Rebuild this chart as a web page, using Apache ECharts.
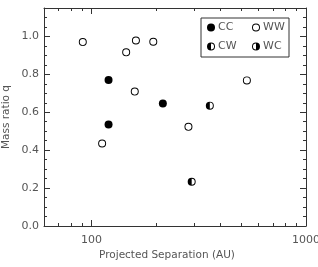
<!DOCTYPE html>
<html>
<head>
<meta charset="utf-8">
<script src="https://cdn.jsdelivr.net/npm/echarts@6/dist/echarts.min.js"></script>
<style>html,body{margin:0;padding:0;background:#fff}#c{width:318px;height:267px}</style>
</head>
<body>
<div id="c"></div>
<script>
// Data: projected separation (AU) and mass ratio q by class
const ccSep = [120, 120, 215];
const ccQ   = [0.770, 0.535, 0.646];
const wwSep = [91, 145, 161, 194, 159, 112, 530, 283];
const wwQ   = [0.970, 0.916, 0.979, 0.972, 0.709, 0.435, 0.768, 0.523];
const cwSep = [356, 293];
const cwQ   = [0.635, 0.233];
const wcSep = [];
const wcQ   = [];
const classNames = ['CC', 'WW', 'CW', 'WC'];
const xMajorTicks = [100, 1000];
const xMinorTicks = [70, 80, 90, 200, 300, 400, 500, 600, 700, 800, 900];
const yMajorTicks = [0, 0.2, 0.4, 0.6, 0.8, 1.0];
const yMinorTicks = [0.05,0.1,0.15,0.25,0.3,0.35,0.45,0.5,0.55,0.65,0.7,0.75,0.85,0.9,0.95,1.05,1.1];

const zip = (a, b) => a.map((v, i) => [v, b[i]]);
const FONT = 'DejaVu Sans';
const TXT = '#555';
const LINE = '#333';

const halfLeft = 'path://M10,0 A10,10 0 0,0 10,20 A10,10 0 0,0 10,0 Z M10,2.4 A7.6,7.6 0 0,1 10,17.6 L10,2.4 Z';
const halfRight = 'path://M10,0 A10,10 0 0,1 10,20 A10,10 0 0,1 10,0 Z M10,2.4 A7.6,7.6 0 0,0 10,17.6 L10,2.4 Z';
const ring = 'path://M10,0 A10,10 0 0,0 10,20 A10,10 0 0,0 10,0 Z M10,2.4 A7.6,7.6 0 0,1 10,17.6 A7.6,7.6 0 0,1 10,2.4 Z';

const XMIN = 60, XMAX = 1000, YMIN = 0, YMAX = 1.15;
const lg = Math.log10;

function tickAxis(pos, vals, len, labels, isX) {
  const base = {
    type: 'value', position: pos,
    min: isX ? lg(XMIN) : YMIN, max: isX ? lg(XMAX) : YMAX,
    axisLine: { show: false, onZero: false },
    splitLine: { show: false },
    axisTick: { show: true, inside: true, length: len, lineStyle: { color: LINE, width: 1 },
      customValues: isX ? vals.map(lg) : vals },
    axisLabel: { show: false },
    silent: true
  };
  if (labels) {
    base.axisLabel = {
      show: true, customValues: isX ? vals.map(lg) : vals,
      color: TXT, fontFamily: FONT, fontSize: 11,
      margin: isX ? 9 : 5,
      formatter: isX ? (v => String(Math.round(Math.pow(10, v)))) : (v => v.toFixed(1))
    };
  }
  return base;
}

const chart = echarts.init(document.getElementById('c'), null, { renderer: 'canvas' });
chart.setOption({
  animation: false,
  backgroundColor: '#fff',
  grid: { left: 44, right: 12, top: 8, bottom: 41, containLabel: false, outerBoundsMode: 'none' },
  xAxis: [
    { type: 'log', logBase: 10, min: XMIN, max: XMAX, position: 'bottom',
      axisLine: { show: true, onZero: false, lineStyle: { color: LINE, width: 1 } },
      axisTick: { show: false }, axisLabel: { show: false }, splitLine: { show: false },
      name: 'Projected Separation (AU)', nameLocation: 'middle', nameGap: 24,
      nameTextStyle: { color: TXT, fontFamily: FONT, fontSize: 10.5, padding: [0, 16, 0, 0] } },
    Object.assign(tickAxis('top', [], 0, false, true), { axisLine: { show: true, onZero: false, lineStyle: { color: LINE, width: 1 } }, axisTick: { show: false } }),
    tickAxis('bottom', xMajorTicks, 6, true, true),
    tickAxis('bottom', xMinorTicks, 3, false, true),
    tickAxis('top', xMajorTicks, 6, false, true),
    tickAxis('top', xMinorTicks, 3, false, true)
  ],
  yAxis: [
    { type: 'value', min: YMIN, max: YMAX, position: 'left',
      axisLine: { show: true, onZero: false, lineStyle: { color: LINE, width: 1 } },
      axisTick: { show: false }, axisLabel: { show: false }, splitLine: { show: false },
      name: 'Mass ratio q', nameLocation: 'middle', nameGap: 32, nameRotate: 90,
      nameTextStyle: { color: TXT, fontFamily: FONT, fontSize: 10.5 } },
    Object.assign(tickAxis('right', [], 0, false, false), { axisLine: { show: true, onZero: false, lineStyle: { color: LINE, width: 1 } }, axisTick: { show: false } }),
    tickAxis('left', yMajorTicks, 6, true, false),
    tickAxis('left', yMinorTicks, 3, false, false),
    tickAxis('right', yMajorTicks, 6, false, false),
    tickAxis('right', yMinorTicks, 3, false, false)
  ],
  legend: {
    data: classNames,
    left: 201, top: 18, width: 92,
    orient: 'horizontal',
    padding: [4, 0, 5, 6],
    itemGap: 8, itemWidth: 8, itemHeight: 8,
    borderColor: LINE, borderWidth: 1,
    textStyle: { color: TXT, fontFamily: FONT, fontSize: 11, width: 26, lineHeight: 10, padding: [0, 0, 0, -2] },
    selectedMode: false
  },
  series: [
    { name: 'CC', type: 'scatter', xAxisIndex: 0, yAxisIndex: 0, data: zip(ccSep, ccQ),
      symbol: 'circle', symbolSize: 8, itemStyle: { color: '#000', opacity: 1 } },
    { name: 'WW', type: 'scatter', xAxisIndex: 0, yAxisIndex: 0, data: zip(wwSep, wwQ),
      symbol: ring, symbolSize: 8, itemStyle: { color: '#000', opacity: 1 } },
    { name: 'CW', type: 'scatter', xAxisIndex: 0, yAxisIndex: 0, data: zip(cwSep, cwQ),
      symbol: halfLeft, symbolSize: 8, itemStyle: { color: '#000', opacity: 1 } },
    { name: 'WC', type: 'scatter', xAxisIndex: 0, yAxisIndex: 0, data: zip(wcSep, wcQ),
      symbol: halfRight, symbolSize: 8, itemStyle: { color: '#000', opacity: 1 } }
  ]
});
</script>
</body>
</html>
